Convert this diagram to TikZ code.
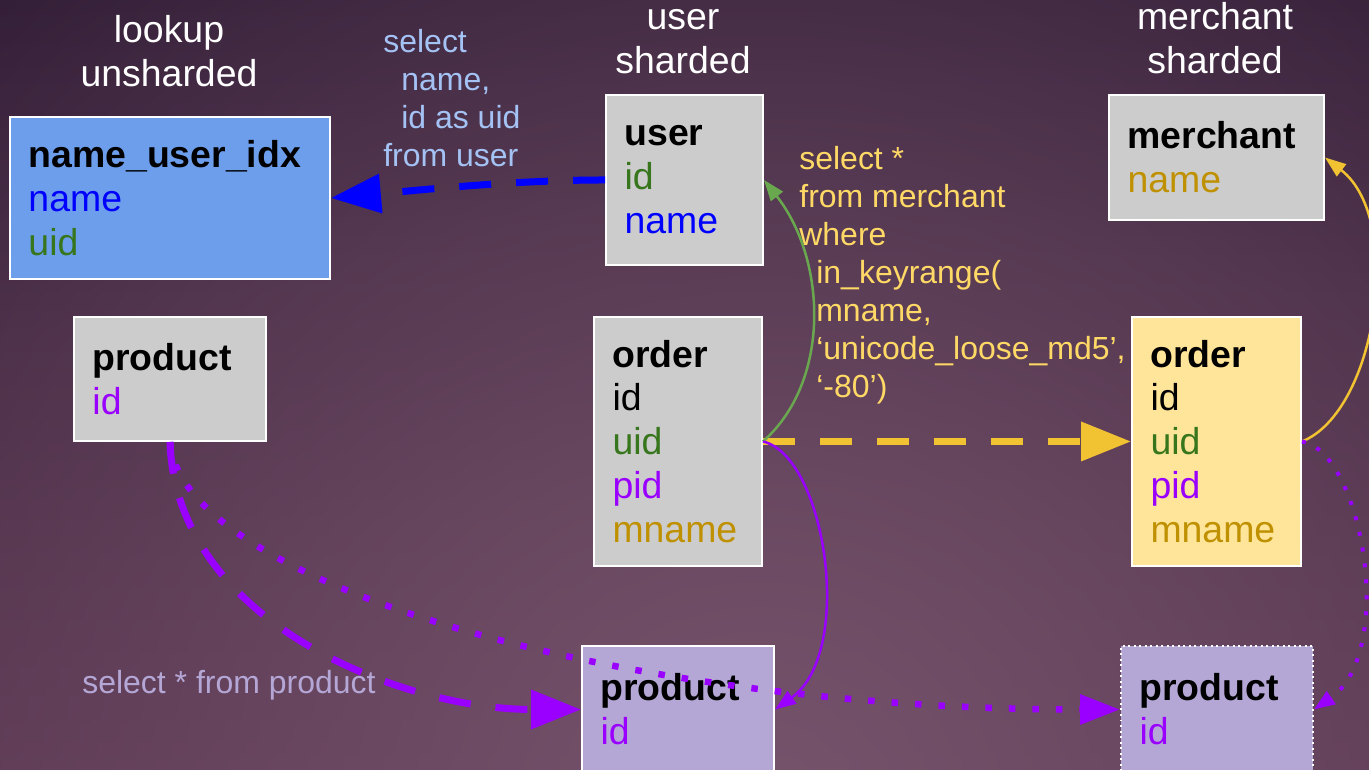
\documentclass[tikz,border=0pt]{standalone}
\usepackage{fontspec}
\setmainfont{Liberation Sans}
\usetikzlibrary{arrows.meta,fadings}
\definecolor{bgtop}{HTML}{2C1932}
\definecolor{bgbot}{HTML}{55304C}
\definecolor{bgglow}{HTML}{76546C}
\definecolor{idxblue}{HTML}{6D9EEB}
\definecolor{tblgrey}{HTML}{CCCCCC}
\definecolor{ordyellow}{HTML}{FFE599}
\definecolor{prodlilac}{HTML}{B4A7D6}
\definecolor{colblue}{HTML}{0000FF}
\definecolor{colgreen}{HTML}{38761D}
\definecolor{colpurple}{HTML}{9900FF}
\definecolor{colgold}{HTML}{BF9000}
\definecolor{qblue}{HTML}{A4C2F4}
\definecolor{qyellow}{HTML}{FFD966}
\definecolor{arrgreen}{HTML}{6AA84F}
\definecolor{arryellow}{HTML}{F1C232}
\tikzfading[name=glowfade,inner color=transparent!0,outer color=transparent!100]
\newcommand{\tblfont}{\fontsize{21.3}{25}\selectfont}
\newcommand{\qryfont}{\fontsize{18.2}{21.6}\selectfont}
\tikzset{
  tbl/.style={draw=white, line width=0.04cm, anchor=north west, align=left,
    inner xsep=0.37cm, inner ysep=0pt, font=\tblfont},
  hdr/.style={white, align=center, anchor=south, inner sep=0pt, font=\tblfont},
  qry/.style={align=left, inner sep=0pt, font=\qryfont},
  fat/.style={line width=0.14cm, dash pattern=on 0.64cm off 0.5cm,
    -{Triangle[length=1cm,width=0.76cm]}},
  dots/.style={line width=0.13cm, dash pattern=on 0.13cm off 0.34cm,
    -{Triangle[length=0.8cm,width=0.58cm]}},
  thin/.style={line width=0.05cm, -{Triangle[length=0.42cm,width=0.3cm]}},
}
\begin{document}
\begin{tikzpicture}[x=0.02cm,y=-0.02cm]
    \useasboundingbox (0,0) rectangle (1369,770);
    \clip (0,0) rectangle (1369,770);
    \shade[top color=bgtop,bottom color=bgbot] (0,0) rectangle (1369,770);
    \fill[bgglow,path fading=glowfade] (760,820) circle (1250);
    \node[hdr] (hlookup) at (169,87) {lookup\\unsharded};
    \node[hdr] (huser) at (683,74) {user\\sharded};
    \node[hdr] (hmerchant) at (1215,74) {merchant\\sharded};
    \node[tbl,fill=idxblue,text width=5.66cm,minimum height=3.24cm] (nui) at (9,116)
      {\textbf{name\_user\_idx}\\\textcolor{colblue}{name}\\\textcolor{colgreen}{uid}};
    \node[tbl,fill=tblgrey,text width=2.4cm,minimum height=3.4cm] (usr) at (605,94)
      {\textbf{user}\\\textcolor{colgreen}{id}\\\textcolor{colblue}{name}};
    \node[tbl,fill=tblgrey,text width=3.56cm,minimum height=2.5cm] (mer) at (1108,94)
      {\textbf{merchant}\\\textcolor{colgold}{name}};
    \node[tbl,fill=tblgrey,text width=3.1cm,minimum height=2.48cm] (prdA) at (73,316)
      {\textbf{product}\\\textcolor{colpurple}{id}};
    \node[tbl,fill=tblgrey,text width=2.62cm,minimum height=4.98cm] (ordA) at (593,316)
      {\textbf{order}\\id\\\textcolor{colgreen}{uid}\\\textcolor{colpurple}{pid}\\\textcolor{colgold}{mname}};
    \node[tbl,fill=ordyellow,text width=2.64cm,minimum height=4.98cm] (ordB) at (1131,316)
      {\textbf{order}\\id\\\textcolor{colgreen}{uid}\\\textcolor{colpurple}{pid}\\\textcolor{colgold}{mname}};
    \node[tbl,fill=prodlilac,text width=3.1cm,minimum height=2.54cm] (prdB) at (581,645)
      {\textbf{product}\\\textcolor{colpurple}{id}};
    \node[tbl,fill=prodlilac,dotted,text width=3.1cm,minimum height=2.54cm] (prdC) at (1120,645)
      {\textbf{product}\\\textcolor{colpurple}{id}};
    \node[qry,qblue,anchor=south west] (qusr) at (383,167)
      {select\\\hspace*{0.36cm}name,\\\hspace*{0.36cm}id as uid\\from user};
    \node[qry,qyellow,anchor=north west] (qmer) at (799,146)
      {select *\\from merchant\\where\\\hspace*{0.34cm}in\_keyrange(\\\hspace*{0.34cm}mname,\\\hspace*{0.34cm}‘unicode\_loose\_md5’,\\\hspace*{0.34cm}‘-80’)};
    \node[qry,prodlilac,anchor=base west] (qprd) at (82,693) {select * from product};
    \draw[fat,colblue] (usr.west) .. controls +(-90,0) and +(90,-8) .. (nui.east);
    \draw[fat,arryellow] (ordA.east) -- (ordB.west);
    \draw[thin,arrgreen] (ordA.east) .. controls +(68,-60) and +(63,80) .. (usr.east);
    \draw[thin,arryellow] (ordB.east) .. controls +(75,-30) and +(80,62) .. (mer.east);
    \draw[thin,colpurple] (ordA.east) .. controls +(63,15) and +(80,-57) .. (prdB.east);
    \draw[fat,colpurple] (prdA.south) .. controls +(6,180) and +(-180,0) .. (prdB.west);
    \draw[dots,colpurple] (prdA.south) .. controls +(11,140) and +(-500,0) .. (prdC.west);
    \draw[thin,colpurple,line width=0.08cm,dash pattern=on 0.08cm off 0.24cm]
      (ordB.east) .. controls +(60,10) and +(83,-57) .. (prdC.east);
\end{tikzpicture}
\end{document}
